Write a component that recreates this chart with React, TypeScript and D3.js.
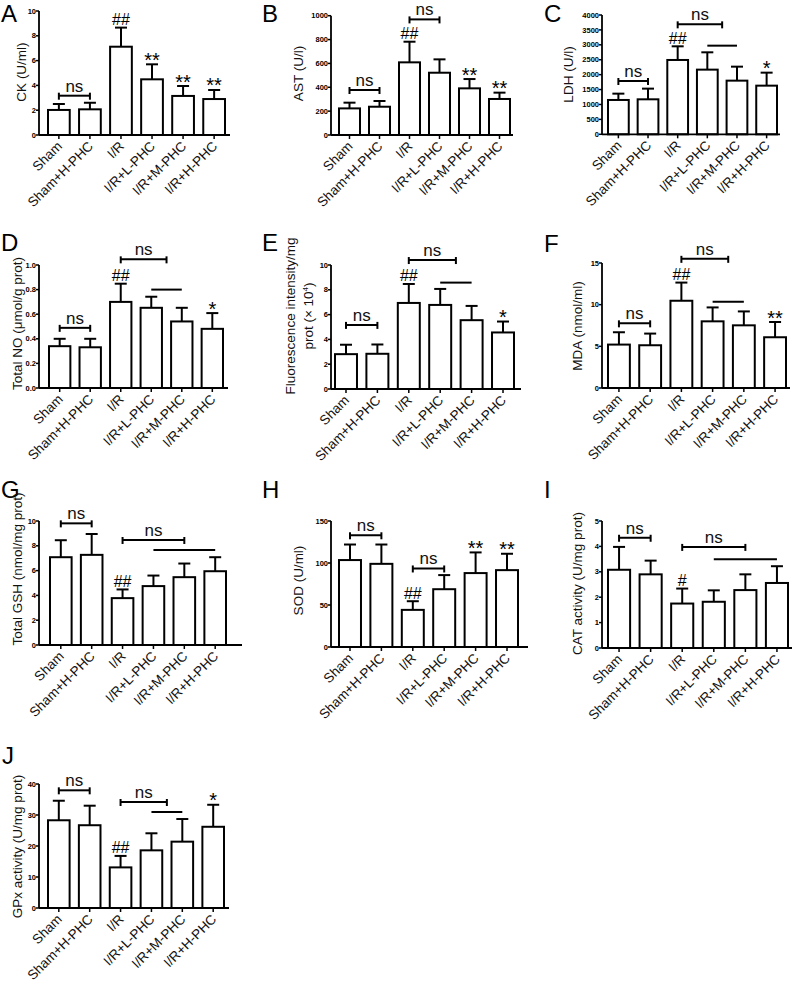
import React from "react";
import * as d3 from "d3";

const groups = ["Sham", "Sham+H-PHC", "I/R", "I/R+L-PHC", "I/R+M-PHC", "I/R+H-PHC"];

// A: CK
const ckMean = [2.02, 2.07, 7.12, 4.49, 3.15, 2.9];
const ckErr = [0.48, 0.53, 1.54, 1.21, 0.8, 0.73];
const ckMarks = ["", "", "##", "**", "**", "**"];
const ckTicks = [0, 2, 4, 6, 8, 10];
// B: AST
const astMean = [223, 237, 609, 522, 391, 302];
const astErr = [48, 48, 173, 112, 78, 53];
const astMarks = ["", "", "##", "", "**", "**"];
const astTicks = [0, 200, 400, 600, 800, 1000];
// C: LDH
const ldhMean = [1151, 1173, 2492, 2168, 1799, 1631];
const ldhErr = [212, 358, 458, 581, 469, 436];
const ldhMarks = ["", "", "##", "", "", "*"];
const ldhTicks = [0, 500, 1000, 1500, 2000, 2500, 3000, 3500, 4000];
// D: Total NO
const noMean = [0.34, 0.331, 0.7, 0.652, 0.541, 0.481];
const noErr = [0.06, 0.069, 0.148, 0.09, 0.111, 0.128];
const noMarks = ["", "", "##", "", "", "*"];
const noTicks = [0, 0.2, 0.4, 0.6, 0.8, 1.0];
// E: Fluorescence
const fluMean = [2.81, 2.84, 6.94, 6.78, 5.55, 4.56];
const fluErr = [0.76, 0.75, 1.53, 1.29, 1.15, 0.88];
const fluMarks = ["", "", "##", "", "", "*"];
const fluTicks = [0, 2, 4, 6, 8, 10];
// F: MDA
const mdaMean = [5.21, 5.13, 10.47, 8.0, 7.52, 6.09];
const mdaErr = [1.48, 1.4, 2.18, 1.67, 1.67, 1.83];
const mdaMarks = ["", "", "##", "", "", "**"];
const mdaTicks = [0, 5, 10, 15];
// G: GSH
const gshMean = [7.08, 7.27, 3.78, 4.75, 5.47, 5.95];
const gshErr = [1.37, 1.68, 0.7, 0.85, 1.1, 1.13];
const gshMarks = ["", "", "##", "", "", ""];
const gshTicks = [0, 2, 4, 6, 8, 10];
// H: SOD
const sodMean = [103.5, 99, 44.2, 68.8, 88, 91.5];
const sodErr = [18.5, 23, 10.3, 16.8, 24.6, 19.5];
const sodMarks = ["", "", "##", "", "**", "**"];
const sodTicks = [0, 50, 100, 150];
// I: CAT
const catMean = [3.08, 2.9, 1.75, 1.82, 2.28, 2.56];
const catErr = [0.9, 0.54, 0.59, 0.45, 0.62, 0.66];
const catMarks = ["", "", "#", "", "", ""];
const catTicks = [0, 1, 2, 3, 4, 5];
// J: GPx
const gpxMean = [28.3, 26.7, 13.1, 18.6, 21.4, 26.2];
const gpxErr = [6.3, 6.3, 3.7, 5.5, 7.3, 7.1];
const gpxMarks = ["", "", "##", "", "", "*"];
const gpxTicks = [0, 10, 20, 30, 40];

// brackets: [from, to, value]
const ckBrackets = [[0, 1, 3.17]];
const ckLines: number[][] = [];
const astBrackets = [[0, 1, 377], [2, 3, 969]];
const astLines: number[][] = [];
const ldhBrackets = [[0, 1, 1788], [2, 3.5, 3687]];
const ldhLines = [[3, 4, 2972]];
const noBrackets = [[0, 1, 0.489], [2, 3.5, 1.046]];
const noLines = [[3, 4, 0.8]];
const fluBrackets = [[0, 1, 5.17], [2, 3.5, 10.4]];
const fluLines = [[3, 4, 8.58]];
const mdaBrackets = [[0, 1, 7.76], [2, 3.5, 15.5]];
const mdaLines = [[3, 4, 10.35]];
const gshBrackets = [[0, 1, 9.81], [2, 4, 8.47]];
const gshLines = [[3, 5, 7.67]];
const sodBrackets = [[0, 1, 133], [2, 3, 93.5]];
const sodLines: number[][] = [];
const catBrackets = [[0, 1, 4.34], [2, 4, 3.98]];
const catLines = [[3, 5, 3.49]];
const gpxBrackets = [[0, 1, 37.96], [2, 3.5, 34.2]];
const gpxLines = [[3, 4, 30.97]];

const FONT = "'Liberation Sans', Arial, Helvetica, sans-serif";

type Layout = {
  letter: string; lx: number; ly: number;
  axisX: number; axisEnd: number; yTop: number; yZero: number;
  barsL: number; barsR: number;
  labelX: number[]; labelY: number;
};

const panels = [
  { layout: { letter: "A", lx: 1, ly: 22, axisX: 39, axisEnd: 230, yTop: 11, yZero: 135, barsL: 48, barsR: 225, labelX: [21.7], labelY: 72 },
    yLabel: ["CK (U/ml)"], max: 10, ticks: ckTicks, fmt: "d", mean: ckMean, err: ckErr, marks: ckMarks, brackets: ckBrackets, lines: ckLines },
  { layout: { letter: "B", lx: 262, ly: 22, axisX: 331, axisEnd: 513, yTop: 15.7, yZero: 135, barsL: 339, barsR: 510, labelX: [298], labelY: 73.5 },
    yLabel: ["AST (U/l)"], max: 1000, ticks: astTicks, fmt: "d", mean: astMean, err: astErr, marks: astMarks, brackets: astBrackets, lines: astLines },
  { layout: { letter: "C", lx: 544, ly: 22, axisX: 602, axisEnd: 780, yTop: 15, yZero: 134.3, barsL: 608, barsR: 777, labelX: [568], labelY: 74.5 },
    yLabel: ["LDH (U/l)"], max: 4000, ticks: ldhTicks, fmt: "d", mean: ldhMean, err: ldhErr, marks: ldhMarks, brackets: ldhBrackets, lines: ldhLines },
  { layout: { letter: "D", lx: 1, ly: 251, axisX: 39, axisEnd: 228, yTop: 265, yZero: 388, barsL: 49, barsR: 223, labelX: [17], labelY: 323.5 },
    yLabel: ["Total NO (\u03bcmol/g prot)"], max: 1.0, ticks: noTicks, fmt: ".1f", mean: noMean, err: noErr, marks: noMarks, brackets: noBrackets, lines: noLines },
  { layout: { letter: "E", lx: 262, ly: 251, axisX: 331, axisEnd: 521, yTop: 265, yZero: 389, barsL: 335, barsR: 514, labelX: [290, 308], labelY: 316 },
    yLabel: ["Fluorescence intensity/mg", "prot (\u00d7 10|4|)"], max: 10, ticks: fluTicks, fmt: "d", mean: fluMean, err: fluErr, marks: fluMarks, brackets: fluBrackets, lines: fluLines },
  { layout: { letter: "F", lx: 544, ly: 252, axisX: 602, axisEnd: 790, yTop: 263, yZero: 388, barsL: 608, barsR: 786, labelX: [577], labelY: 326 },
    yLabel: ["MDA (nmol/ml)"], max: 15, ticks: mdaTicks, fmt: "d", mean: mdaMean, err: mdaErr, marks: mdaMarks, brackets: mdaBrackets, lines: mdaLines },
  { layout: { letter: "G", lx: 1, ly: 498, axisX: 39, axisEnd: 242, yTop: 521, yZero: 645, barsL: 50, barsR: 226, labelX: [17], labelY: 569 },
    yLabel: ["Total GSH (nmol/mg prot)"], max: 10, ticks: gshTicks, fmt: "d", mean: gshMean, err: gshErr, marks: gshMarks, brackets: gshBrackets, lines: gshLines },
  { layout: { letter: "H", lx: 262, ly: 498, axisX: 331, axisEnd: 528, yTop: 521, yZero: 647, barsL: 339, barsR: 518, labelX: [298], labelY: 580.5 },
    yLabel: ["SOD (U/ml)"], max: 150, ticks: sodTicks, fmt: "d", mean: sodMean, err: sodErr, marks: sodMarks, brackets: sodBrackets, lines: sodLines },
  { layout: { letter: "I", lx: 544, ly: 498, axisX: 602, axisEnd: 792, yTop: 521, yZero: 648, barsL: 608, barsR: 788, labelX: [577], labelY: 583.5 },
    yLabel: ["CAT activity (U/mg prot)"], max: 5, ticks: catTicks, fmt: "d", mean: catMean, err: catErr, marks: catMarks, brackets: catBrackets, lines: catLines },
  { layout: { letter: "J", lx: 2, ly: 764, axisX: 39, axisEnd: 229, yTop: 784, yZero: 908, barsL: 48, barsR: 224, labelX: [17], labelY: 846.5 },
    yLabel: ["GPx activity (U/mg prot)"], max: 40, ticks: gpxTicks, fmt: "d", mean: gpxMean, err: gpxErr, marks: gpxMarks, brackets: gpxBrackets, lines: gpxLines },
];

function YLabelLine({ text, x, y }: { text: string; x: number; y: number }) {
  const parts = text.split("|");
  return (
    <text transform={`translate(${x + 4.6},${y}) rotate(-90)`} textAnchor="middle" fontSize={13.5} fontFamily={FONT} fill="#111">
      {parts.length === 1 ? text : (
        <>
          <tspan>{parts[0]}</tspan>
          <tspan fontSize={8} dy={-5}>{parts[1]}</tspan>
          <tspan dy={5}>{parts[2]}</tspan>
        </>
      )}
    </text>
  );
}

function Panel({ p }: { p: typeof panels[number] }) {
  const L = p.layout as Layout;
  const x = d3.scaleBand<string>().domain(groups).range([L.barsL, L.barsR]).paddingInner(0.3).paddingOuter(0);
  const y = d3.scaleLinear().domain([0, p.max]).range([L.yZero, L.yTop]);
  const bw = x.bandwidth();
  const step = x.step();
  const c0 = (x(groups[0]) as number) + bw / 2;
  const pos = (f: number) => c0 + f * step;
  const fmt = d3.format(p.fmt);
  const sw = 2;
  return (
    <g>
      <text x={L.lx} y={L.ly} fontSize={24} fontFamily={FONT} fill="#000">{L.letter}</text>
      {p.yLabel.map((t, i) => (
        <YLabelLine key={i} text={t} x={L.labelX[i]} y={L.labelY} />
      ))}
      {/* bars */}
      {groups.map((g, i) => {
        const cx = (x(g) as number) + bw / 2;
        const top = y(p.mean[i]);
        const et = y(p.mean[i] + p.err[i]);
        const isStar = p.marks[i].startsWith("*");
        return (
          <g key={g}>
            <line x1={cx} x2={cx} y1={top} y2={et} stroke="#000" strokeWidth={sw} />
            <line x1={cx - 6} x2={cx + 6} y1={et} y2={et} stroke="#000" strokeWidth={sw} />
            <rect x={x(g)} y={top} width={bw} height={L.yZero - top} fill="#fff" stroke="#000" strokeWidth={sw} />
            {p.marks[i] && (
              <text x={cx} y={isStar ? et + 2.5 : et - 2.5} textAnchor="middle" fontSize={isStar ? 20 : 16} fontFamily={FONT} fill="#000">{p.marks[i]}</text>
            )}
            <line x1={cx} x2={cx} y1={L.yZero} y2={L.yZero + 4} stroke="#000" strokeWidth={1.5} />
            <text transform={`translate(${cx + 4},${L.yZero + 12}) rotate(-45)`} textAnchor="end" fontSize={13.5} fontFamily={FONT} fill="#111">{g}</text>
          </g>
        );
      })}
      {/* axes */}
      <line x1={L.axisX} x2={L.axisX} y1={L.yTop} y2={L.yZero} stroke="#000" strokeWidth={1.8} />
      <line x1={L.axisX} x2={L.axisEnd} y1={L.yZero} y2={L.yZero} stroke="#000" strokeWidth={1.8} />
      {p.ticks.map((t) => (
        <g key={t}>
          <line x1={L.axisX - 3} x2={L.axisX} y1={y(t)} y2={y(t)} stroke="#000" strokeWidth={1.5} />
          <text x={L.axisX - 3} y={y(t)} dy="0.35em" textAnchor="end" fontSize={7.5} fontWeight="bold" fontFamily={FONT} fill="#000">{fmt(t)}</text>
        </g>
      ))}
      {/* ns brackets */}
      {p.brackets.map((b, i) => {
        const x1 = pos(b[0]);
        const x2 = pos(b[1]);
        const yy = y(b[2]);
        return (
          <g key={"b" + i}>
            <line x1={x1} x2={x2} y1={yy} y2={yy} stroke="#000" strokeWidth={2} />
            <line x1={x1} x2={x1} y1={yy - 3} y2={yy + 4} stroke="#000" strokeWidth={2} />
            <line x1={x2} x2={x2} y1={yy - 3} y2={yy + 4} stroke="#000" strokeWidth={2} />
            <text x={(x1 + x2) / 2} y={yy - 4} textAnchor="middle" fontSize={17} fontFamily={FONT} fill="#111">ns</text>
          </g>
        );
      })}
      {p.lines.map((b, i) => (
        <line key={"l" + i} x1={pos(b[0])} x2={pos(b[1])} y1={y(b[2])} y2={y(b[2])} stroke="#000" strokeWidth={2} />
      ))}
    </g>
  );
}

export default function App() {
  return (
    <svg width={794} height={986} style={{ position: "absolute", left: 0, top: 0, display: "block", background: "#fff" }}>
      <rect width={794} height={986} fill="#fff" />
      {panels.map((p) => (
        <Panel key={p.layout.letter} p={p} />
      ))}
    </svg>
  );
}
